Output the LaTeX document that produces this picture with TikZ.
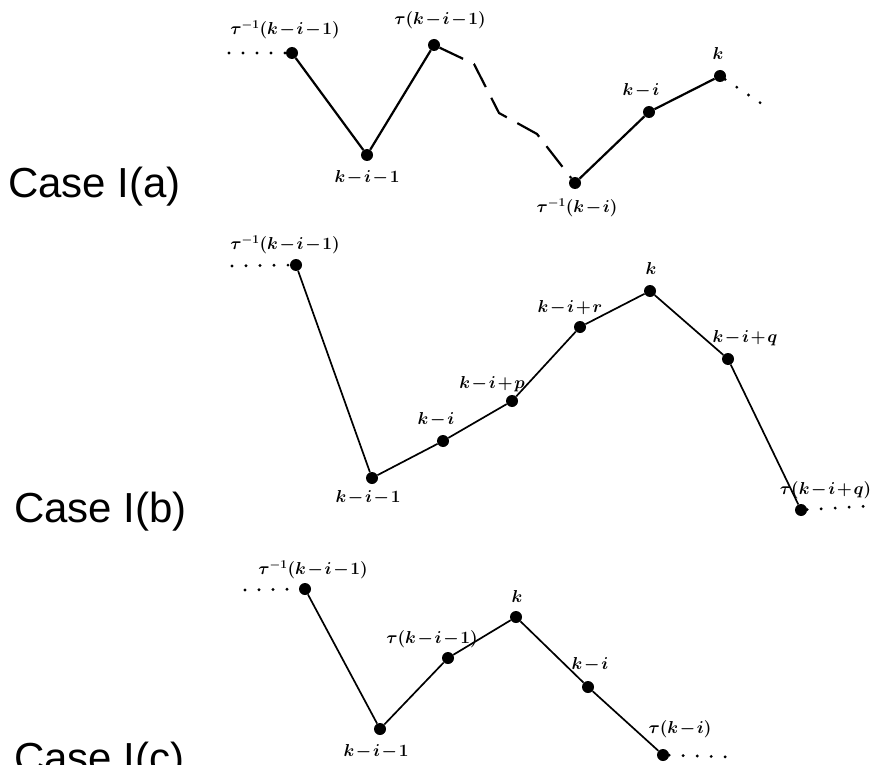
\documentclass[tikz,border=0pt]{standalone}
\usepackage{fontspec}
\newfontfamily\casefont{Liberation Sans}
\newcommand\mn{\mkern1.5mu{-}\mkern1.5mu}
\newcommand\pl{\mkern1.5mu{+}\mkern1.5mu}
\begin{document}
\begin{tikzpicture}[x=1pt,y=-1pt,
  vtx/.style={circle,fill=black,inner sep=0pt,minimum size=12pt},
  lab/.style={inner sep=1pt,font=\fontsize{18}{20}\selectfont\boldmath},
  casel/.style={anchor=west,inner sep=0pt,font=\casefont\fontsize{42}{46}\selectfont},
  edge/.style={line width=2.2pt},
  edgethin/.style={line width=1.7pt},
  dots/.style={line width=3.2pt,line cap=round,dash pattern=on 0pt off 14pt},
  dashpath/.style={line width=2.2pt,dash pattern=on 26pt off 12pt}]
\useasboundingbox (0,0) rectangle (873,765);

% ---------- Case I(a)
\node[casel] (ca) at (8,187) {Case I(a)};
\node[vtx] (a1) at (292,53) {};
\node[vtx] (a2) at (367,155) {};
\node[vtx] (a3) at (434,45) {};
\node[vtx] (a4) at (575,183) {};
\node[vtx] (a5) at (649,112) {};
\node[vtx] (a6) at (720,76) {};
\coordinate (a0) at (229,53);
\coordinate (a7) at (768,108);
\coordinate (d1) at (474,64);
\coordinate (d2) at (499,113);
\coordinate (d3) at (537,134);
\node[lab] (la1) at (285,30) {$\tau^{-1}(k\mn i\mn 1)$};
\node[lab] (la2) at (367,178) {$k\mn i\mn 1$};
\node[lab] (la3) at (440,20) {$\tau(k\mn i\mn 1)$};
\node[lab] (la4) at (577,208) {$\tau^{-1}(k\mn i)$};
\node[lab] (la5) at (641,91) {$k\mn i$};
\node[lab] (la6) at (718,54) {$k$};
\draw[dots] (a0) -- (a1);
\draw[edge] (a1) -- (a2) -- (a3);
\draw[dashpath] (a3) -- (d1) -- (d2) -- (d3) -- (a4);
\draw[edge] (a4) -- (a5) -- (a6);
\draw[dots] (a6) -- (a7);

% ---------- Case I(b)
\node[casel] (cb) at (14,512) {Case I(b)};
\node[vtx] (b1) at (296,265) {};
\node[vtx] (b2) at (372,478) {};
\node[vtx] (b3) at (443,441) {};
\node[vtx] (b4) at (512,401) {};
\node[vtx] (b5) at (580,327) {};
\node[vtx] (b6) at (650,291) {};
\node[vtx] (b7) at (728,359) {};
\node[vtx] (b8) at (801,510) {};
\coordinate (b0) at (232,266);
\coordinate (b9) at (870,506);
\node[lab] (lb1) at (285,245) {$\tau^{-1}(k\mn i\mn 1)$};
\node[lab] (lb2) at (368,498) {$k\mn i\mn 1$};
\node[lab] (lb3) at (436,420) {$k\mn i$};
\node[lab] (lb4) at (492,384) {$k\mn i\pl p$};
\node[lab] (lb5) at (570,308) {$k\mn i\pl r$};
\node[lab] (lb6) at (651,268) {$k$};
\node[lab] (lb7) at (745,338) {$k\mn i\pl q$};
\node[lab,anchor=east,inner sep=0.5pt] (lb8) at (872,490) {$\tau(k\mn i\pl q)$};
\draw[dots] (b0) -- (b1);
\draw[edgethin] (b1) -- (b2) -- (b3) -- (b4) -- (b5) -- (b6) -- (b7) -- (b8);
\draw[dots] (b8) -- (b9);

% ---------- Case I(c)
\node[casel] (cc) at (14,762) {Case I(c)};
\node[vtx] (c1) at (305,589) {};
\node[vtx] (c2) at (380,729) {};
\node[vtx] (c3) at (448,658) {};
\node[vtx] (c4) at (516,617) {};
\node[vtx] (c5) at (588,687) {};
\node[vtx] (c6) at (663,755) {};
\coordinate (c0) at (245,590);
\coordinate (c7) at (730,757);
\node[lab] (lc1) at (313,570) {$\tau^{-1}(k\mn i\mn 1)$};
\node[lab] (lc2) at (376,752) {$k\mn i\mn 1$};
\node[lab] (lc3) at (432,639) {$\tau(k\mn i\mn 1)$};
\node[lab] (lc4) at (517,596) {$k$};
\node[lab] (lc5) at (590,665) {$k\mn i$};
\node[lab] (lc6) at (680,729) {$\tau(k\mn i)$};
\draw[dots] (c0) -- (c1);
\draw[edgethin] (c1) -- (c2) -- (c3) -- (c4) -- (c5) -- (c6);
\draw[dots] (c6) -- (c7);
\end{tikzpicture}
\end{document}
